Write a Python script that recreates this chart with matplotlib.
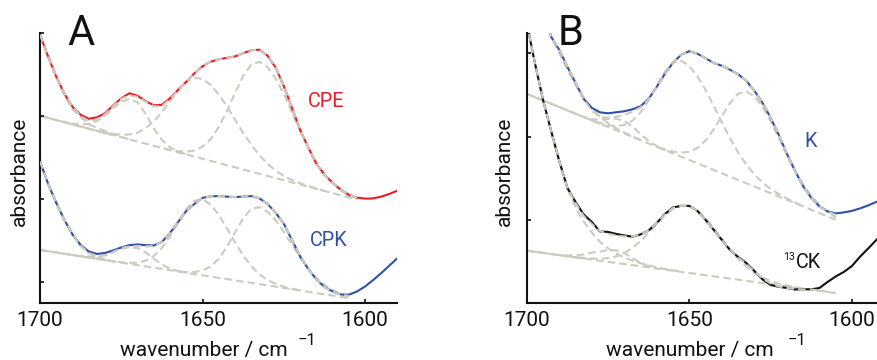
import numpy as np
import matplotlib
matplotlib.use('Agg')
import matplotlib.pyplot as plt

plt.rcParams['font.family'] = ['Roboto', 'DejaVu Sans']

# wavenumber grid (cm^-1)
wn = [1700, 1697.5, 1695, 1692.5, 1690, 1687.5, 1685, 1682.5, 1680, 1677.5,
      1675, 1672.5, 1670, 1667.5, 1665, 1662.5, 1660, 1657.5, 1655, 1652.5,
      1650, 1647.5, 1645, 1642.5, 1640, 1637.5, 1635, 1632.5, 1630, 1627.5,
      1625, 1622.5, 1620, 1617.5, 1615, 1612.5, 1610, 1607.5, 1605, 1602.5,
      1600, 1597.5, 1595, 1592.5, 1590]

# ---------------- panel A : CPE ----------------
cpe = [2.68, 2.46, 2.26, 2.09, 1.96, 1.88, 1.84, 1.855, 1.895, 1.975, 2.045, 2.095, 2.07, 2.015, 1.975,
       1.98, 2.045, 2.13, 2.21, 2.295, 2.365, 2.41, 2.435, 2.448, 2.463, 2.495, 2.525, 2.53, 2.47, 2.35,
       2.165, 1.95, 1.73, 1.555, 1.39, 1.28, 1.2, 1.13, 1.078, 1.052, 1.043, 1.045, 1.063, 1.09, 1.123]
cpe_fit = [2.68, 2.46, 2.26, 2.09, 1.96, 1.87, 1.815, 1.835, 1.885, 1.97, 2.04, 2.075, 2.06, 2.01, 1.965,
           1.965, 2.04, 2.125, 2.21, 2.295, 2.365, 2.41, 2.435, 2.448, 2.463, 2.495, 2.525, 2.53, 2.47, 2.35,
           2.165, 1.95, 1.73, 1.555, 1.39, 1.28, 1.2, 1.13, 1.078, 1.052]
cpe_base = [1.870, 1.849, 1.827, 1.806, 1.784, 1.763, 1.741, 1.720, 1.698, 1.677, 1.655, 1.634, 1.612, 1.591,
            1.569, 1.548, 1.526, 1.505, 1.484, 1.462, 1.441, 1.419, 1.398, 1.376, 1.355, 1.333, 1.312, 1.290,
            1.269, 1.247, 1.226, 1.204, 1.183, 1.161, 1.140, 1.119, 1.097, 1.076, 1.054, 1.033]
cpe_c0 = [0.80, 0.63, 0.44, 0.27, 0.15, 0.095, 0.045, 0.03, 0.02, 0.01, 0.004] + [0] * 29
cpe_c1 = [0, 0, 0, 0.002, 0.007, 0.02, 0.047, 0.098, 0.174, 0.268, 0.355, 0.405, 0.392, 0.298, 0.176,
          0.081, 0.029, 0.008, 0.002] + [0] * 21
cpe_c2 = [0] * 7 + [0.002, 0.005, 0.012, 0.025, 0.049, 0.09, 0.155, 0.245, 0.36, 0.49, 0.62, 0.726, 0.789,
                    0.797, 0.759, 0.685, 0.587, 0.476, 0.366, 0.267, 0.185, 0.121, 0.075, 0.044, 0.025,
                    0.013, 0.008, 0.004, 0.002] + [0] * 4
cpe_c3 = [0] * 16 + [0.004, 0.012, 0.028, 0.061, 0.121, 0.218, 0.361, 0.542, 0.745, 0.934, 1.071, 1.12,
                     1.088, 0.996, 0.859, 0.699, 0.536, 0.388, 0.264, 0.17, 0.103, 0.059, 0.032, 0.016]

# ---------------- panel A : CPK ----------------
cpk = [1.413, 1.19, 1.0, 0.83, 0.685, 0.58, 0.515, 0.49, 0.50, 0.525, 0.555, 0.578, 0.585, 0.578, 0.575,
       0.61, 0.70, 0.81, 0.92, 0.99, 1.05, 1.066, 1.068, 1.062, 1.058, 1.063, 1.068, 1.045, 0.99, 0.90,
       0.79, 0.63, 0.465, 0.34, 0.235, 0.16, 0.115, 0.085, 0.083, 0.115, 0.165, 0.23, 0.30, 0.375, 0.45]
cpk_fit = [1.413, 1.19, 1.0, 0.83, 0.685, 0.575, 0.50, 0.47, 0.475, 0.51, 0.55, 0.565, 0.57, 0.565, 0.57,
           0.61, 0.70, 0.81, 0.92, 0.99, 1.05, 1.066, 1.068, 1.062, 1.058, 1.063, 1.068, 1.045, 0.99, 0.90,
           0.79, 0.63, 0.465, 0.34, 0.235, 0.16, 0.115, 0.085, 0.07]
cpk_base = [0.530, 0.517, 0.505, 0.492, 0.479, 0.467, 0.454, 0.441, 0.429, 0.416, 0.403, 0.391, 0.378,
            0.365, 0.353, 0.340, 0.327, 0.315, 0.302, 0.289, 0.277, 0.264, 0.251, 0.239, 0.226, 0.213,
            0.201, 0.188, 0.175, 0.163, 0.150, 0.137, 0.125, 0.112, 0.099, 0.087, 0.074, 0.061, 0.049]
cpk_d0 = [0.883, 0.68, 0.495, 0.335, 0.20, 0.10, 0.045, 0.02, 0.008] + [0] * 30
cpk_d1 = [0] * 5 + [0.003, 0.01, 0.025, 0.05, 0.09, 0.14, 0.165, 0.17, 0.14, 0.09, 0.045, 0.015, 0.004] + [0] * 21
cpk_d2 = [0] * 9 + [0.001, 0.004, 0.010, 0.026, 0.058, 0.117, 0.211, 0.341, 0.492, 0.635, 0.733, 0.759,
                    0.718, 0.628, 0.507, 0.379, 0.261, 0.167, 0.098, 0.054, 0.027, 0.012, 0.005, 0.002] + [0] * 6
cpk_d3 = [0] * 17 + [0.002, 0.007, 0.020, 0.048, 0.101, 0.192, 0.323, 0.480, 0.634, 0.741, 0.769, 0.736,
                     0.662, 0.559, 0.444, 0.331, 0.232, 0.152, 0.094, 0.055, 0.030, 0.015]

# ---------------- panel B : K (starts at 1695) ----------------
k_main = [2.96, 2.66, 2.53, 2.36, 2.20, 2.04, 1.95, 1.905, 1.895, 1.905, 1.915, 1.935, 1.965, 2.04, 2.16,
          2.29, 2.40, 2.48, 2.515, 2.49, 2.445, 2.397, 2.37, 2.33, 2.285, 2.22, 2.12, 2.0, 1.85, 1.68,
          1.49, 1.32, 1.165, 1.05, 0.965, 0.915, 0.895, 0.905, 0.92, 0.945, 0.975, 1.01, 1.04]
k_fit = [2.96, 2.66, 2.53, 2.36, 2.20, 2.04, 1.92, 1.86, 1.85, 1.86, 1.88, 1.91, 1.955, 2.035, 2.16,
         2.29, 2.40, 2.48, 2.515, 2.49, 2.445, 2.397, 2.37, 2.33, 2.285, 2.22, 2.12, 2.0, 1.85, 1.68,
         1.49, 1.32, 1.165, 1.05, 0.965, 0.915, 0.88]
k_base = [2.090, 2.057, 2.024, 1.991, 1.958, 1.924, 1.891, 1.858, 1.825, 1.792, 1.759, 1.726, 1.693, 1.660,
          1.627, 1.593, 1.560, 1.527, 1.494, 1.461, 1.428, 1.395, 1.362, 1.329, 1.296, 1.262, 1.229, 1.196,
          1.163, 1.130, 1.097, 1.064, 1.031, 0.998, 0.965, 0.931, 0.898, 0.865, 0.832]
k_e0 = [1.40, 1.15, 0.93, 0.67, 0.538, 0.406, 0.288, 0.192, 0.12, 0.071, 0.039, 0.02, 0.01, 0.005, 0.002] + [0] * 24
k_e1 = [0] * 8 + [0.01, 0.04, 0.08, 0.115, 0.125, 0.105, 0.06, 0.025, 0.008] + [0] * 22
k_e2 = [0] * 9 + [0.007, 0.018, 0.041, 0.085, 0.161, 0.277, 0.433, 0.611, 0.783, 0.911, 0.96, 0.937, 0.87,
                  0.765, 0.64, 0.509, 0.384, 0.275, 0.186, 0.121, 0.074, 0.043, 0.024, 0.012, 0.006, 0.003] + [0] * 4
k_e3 = [0] * 16 + [0.003, 0.007, 0.018, 0.041, 0.082, 0.154, 0.262, 0.406, 0.571, 0.734, 0.86, 0.918, 0.902,
                   0.831, 0.72, 0.586, 0.448, 0.321, 0.217, 0.137, 0.081, 0.046, 0.024]

# ---------------- panel B : 13CK ----------------
ck13 = [2.80, 2.40, 2.03, 1.72, 1.42, 1.15, 1.01, 0.885, 0.81, 0.715, 0.71, 0.69, 0.675, 0.662, 0.685,
        0.725, 0.80, 0.89, 0.955, 0.97, 0.97, 0.92, 0.83, 0.73, 0.63, 0.53, 0.46, 0.40, 0.32, 0.235,
        0.18, 0.162, 0.15, 0.135, 0.137, 0.137, 0.15, 0.21, 0.265, 0.31, 0.37, 0.463, 0.545, 0.63, 0.71]
ck13_fit = [2.80, 2.40, 2.03, 1.72, 1.42, 1.15, 1.00, 0.87, 0.79, 0.72, 0.69, 0.675, 0.665, 0.665, 0.685,
            0.725, 0.80, 0.885, 0.95, 0.97, 0.97, 0.92, 0.83, 0.73, 0.63, 0.535, 0.455, 0.39, 0.315, 0.245,
            0.195, 0.165, 0.15, 0.14, 0.135, 0.135, 0.125, 0.112, 0.10]
ck_base = [0.523, 0.512, 0.501, 0.489, 0.478, 0.467, 0.456, 0.445, 0.434, 0.422, 0.411, 0.400, 0.389,
           0.378, 0.367, 0.355, 0.344, 0.333, 0.322, 0.311, 0.300, 0.288, 0.277, 0.266, 0.255, 0.244,
           0.233, 0.221, 0.210, 0.199, 0.188, 0.177, 0.166, 0.154, 0.143, 0.132, 0.121, 0.110, 0.099]
ck_f0 = [2.28, 1.89, 1.54, 1.23, 0.94, 0.69, 0.50, 0.37, 0.27, 0.19, 0.135, 0.095, 0.065, 0.045, 0.03,
         0.02, 0.012, 0.007, 0.004, 0.002] + [0] * 19
ck_f1 = [0] * 5 + [0.008, 0.02, 0.04, 0.07, 0.09, 0.12, 0.125, 0.11, 0.07, 0.035, 0.012] + [0] * 23
ck_f2 = [0] * 6 + [0.003, 0.006, 0.010, 0.020, 0.038, 0.066, 0.110, 0.172, 0.251, 0.346, 0.447, 0.543,
                   0.618, 0.663, 0.667, 0.634, 0.569, 0.482, 0.387, 0.293, 0.210, 0.142, 0.090, 0.055,
                   0.031, 0.017, 0.009, 0.004, 0.002] + [0] * 4

RED = '#ec1c24'
BLUE = '#3150a6'
BLACK = '#111111'
GRAY = '#cbcbbf'
DASH = (3.6, 2.0)
LW = 1.5

W, H = 877, 360
fig = plt.figure(figsize=(W / 100, H / 100), dpi=100)
axA = fig.add_axes([40 / W, 57 / H, 357 / W, 270 / H])
axB = fig.add_axes([526.7 / W, 57 / H, 350.3 / W, 270 / H])


def spectrum(ax, x0, main, color, fit, base, comps, n_solid):
    wn_arr = np.array(wn)
    b = np.array(base)
    xb = wn_arr[:len(b)]
    # baseline: solid where the fitted components still lie on it, dashed afterwards
    ax.plot(xb[:n_solid], b[:n_solid], color=GRAY, lw=LW, zorder=1, solid_capstyle='butt')
    ax.plot(xb, b, color=GRAY, lw=LW, ls=(0, DASH), zorder=1, dash_capstyle='butt')
    period = sum(DASH)
    for i, c in enumerate(comps):
        c = np.array(c)
        idx = np.where(c > 0.003)[0]
        lo = max(idx[0] - 1, 0)
        hi = min(idx[-1] + 2, len(c))
        off = period * (i + 1) / (len(comps) + 1)
        ax.plot(xb[lo:hi], (b + c)[lo:hi], color=GRAY, lw=LW, ls=(off, DASH), zorder=1,
                dash_capstyle='butt')
    xm = wn_arr[x0:x0 + len(main)]
    ax.plot(xm, main, color=color, lw=LW, zorder=2, solid_capstyle='round')
    xf = wn_arr[x0:x0 + len(fit)]
    ax.plot(xf, fit, color=GRAY, lw=LW, ls=(0, DASH), zorder=3, dash_capstyle='butt')


spectrum(axA, 0, cpe, RED, cpe_fit, cpe_base, [cpe_c0, cpe_c1, cpe_c2, cpe_c3], 10)
spectrum(axA, 0, cpk, BLUE, cpk_fit, cpk_base, [cpk_d0, cpk_d1, cpk_d2, cpk_d3], 10)
spectrum(axB, 2, k_main, BLUE, k_fit, k_base, [k_e0, k_e1, k_e2, k_e3], 10)
spectrum(axB, 0, ck13, BLACK, ck13_fit, ck_base, [ck_f0, ck_f1, ck_f2], 8)

for ax, xr, yt in [(axA, 1590.2, [0.21, 1.037, 1.863, 2.697]),
                   (axB, 1592.3, [0.0, 0.83, 1.663, 2.497])]:
    ax.set_xlim(1700, xr)
    ax.set_ylim(0, 2.697)
    ax.set_xticks([1700, 1650, 1600])
    ax.set_yticks(yt)
    ax.set_yticklabels([])
    for s in ['top', 'right']:
        ax.spines[s].set_visible(False)
    for s in ['left', 'bottom']:
        ax.spines[s].set_linewidth(1.5)
        ax.spines[s].set_color('#111111')
    ax.tick_params(direction='in', length=3, width=1.2, labelsize=15, pad=5.5,
                   colors='#111111')
    ax.patch.set_alpha(0)

# panel letters
fig.text(81 / W, (H - 45) / H, 'A', fontsize=30, ha='center', va='baseline', color='#111111')
fig.text(571 / W, (H - 45) / H, 'B', fontsize=30, ha='center', va='baseline', color='#111111')

# curve labels
fig.text(326 / W, (H - 107) / H, 'CPE', fontsize=14.2, ha='center', va='baseline', color=RED)
fig.text(329 / W, (H - 246) / H, 'CPK', fontsize=14.2, ha='center', va='baseline', color=BLUE)
fig.text(811 / W, (H - 147) / H, 'K', fontsize=14.2, ha='center', va='baseline', color=BLUE)
fig.text(796 / W, (H - 268) / H, 'CK', fontsize=14.2, ha='left', va='baseline', color=BLACK)
fig.text(795 / W, (H - 260) / H, '13', fontsize=7.7, ha='right', va='baseline', color=BLACK)

# axis labels
for xc in (19, 504):
    fig.text(xc / W, (H - 171) / H, 'absorbance', fontsize=15, rotation=90,
             ha='center', va='center', color='#111111')
for xc, xs in ((203.5, 298), (690, 788)):
    fig.text(xc / W, (H - 356) / H, 'wavenumber / cm', fontsize=15, ha='center',
             va='baseline', color='#111111')
    fig.text(xs / W, (H - 345) / H, '\u22121', fontsize=12, ha='left',
             va='baseline', color='#111111')

fig.savefig('out.png', dpi=100)
